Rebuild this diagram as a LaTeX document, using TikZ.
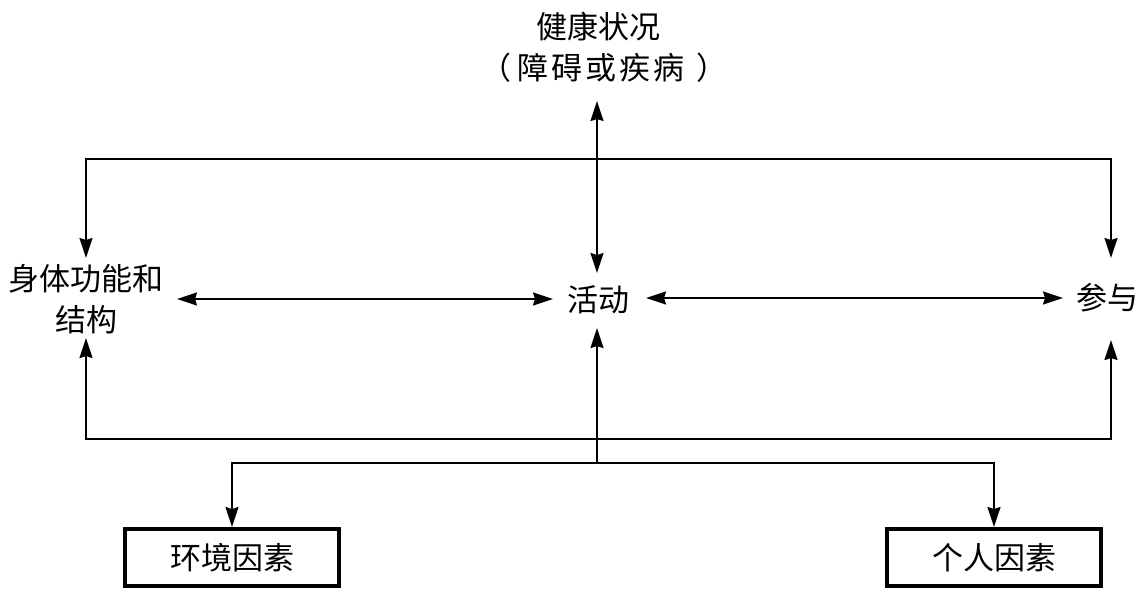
\documentclass[tikz,border=0pt]{standalone}
\usepackage{fontspec}
\newfontfamily\cjk{Noto Sans CJK SC}
\usetikzlibrary{arrows.meta,calc}
\begin{document}
\begin{tikzpicture}[x=1pt,y=-1pt,
  tip/.tip={Stealth[length=20pt,width=13pt,inset=2pt]},
  lbl/.style={inner sep=0pt,font=\cjk\fontsize{31}{36}\selectfont},
  fbox/.style={lbl,draw,line width=4pt,minimum width=214pt,minimum height=57pt},
  conn/.style={line width=2pt,arrows={tip-tip}},
  oneway/.style={line width=2pt,arrows={-tip}}]
\useasboundingbox (0,0) rectangle (1146,595);
\node[lbl] (h1) at (598,27) {健康状况};
\node[lbl] (h2) at (604,68) {（\kern6pt 障\kern3pt 碍\kern3pt 或\kern3pt 疾\kern3pt 病\kern12pt ）};
\node[lbl] (b1) at (86,279) {身体功能和};
\node[lbl] (b2) at (86,320) {结构};
\node[lbl] (act) at (598,300) {活动};
\node[lbl] (part) at (1107,298) {参与};
\node[fbox] (env) at (232,557.5) {环境因素};
\node[fbox] (pers) at (994,557.5) {个人因素};
\coordinate (junc) at (597,463);
% vertical health <-> activity
\draw[conn] ($(h2.center)+(-7,33)$) -- ($(act.center)+(-1,-27)$);
% top loop
\draw[conn] ($(b1.center)+(0,-21)$) |- (597,159) -| ($(part.center)+(4,-40)$);
% bottom loop
\draw[conn] ($(b2.center)+(0,18)$) |- (597,439) -| ($(part.center)+(4,42)$);
% middle horizontals
\draw[conn] ($(b1.center)+(91,20)$) -- ($(act.center)+(-45,-1)$);
\draw[conn] ($(act.center)+(48,-2)$) -- ($(part.center)+(-44,0)$);
% factors
\draw[conn] (env.north) |- (junc) -| (pers.north);
\draw[oneway] (junc) -- ($(act.center)+(-1,28)$);
\end{tikzpicture}
\end{document}
